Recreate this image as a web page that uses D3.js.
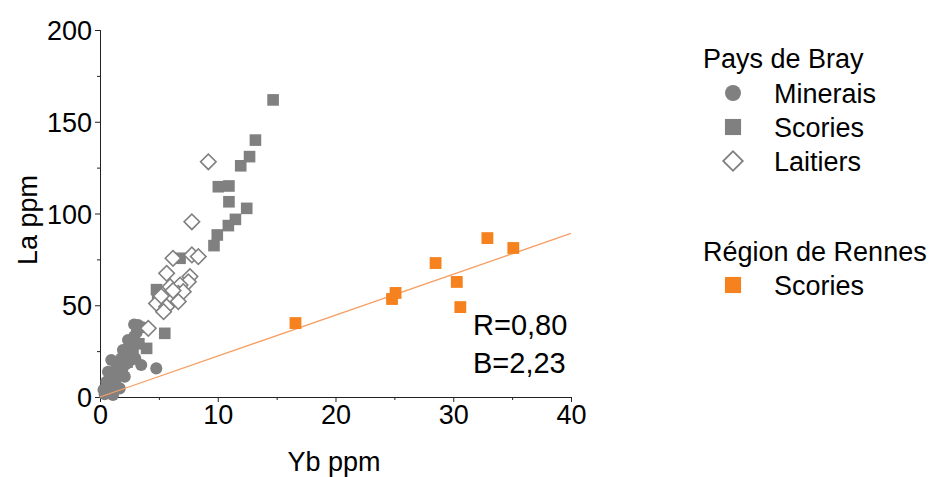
<!DOCTYPE html>
<html><head><meta charset="utf-8">
<script src="https://cdn.jsdelivr.net/npm/d3@7"></script>
<style>
html,body{margin:0;padding:0;background:#fff;}
svg text{font-family:"Liberation Sans",Arial,sans-serif;fill:#000;}
</style></head>
<body><svg id="chart" width="933" height="477"></svg>
<script>
// ---- data ----
const xTicks = [0, 10, 20, 30, 40];
const yTicks = [0, 50, 100, 150, 200];
const xMinor = [5, 15, 25, 35];
const yMinor = [25, 75, 125, 175];

// Pays de Bray – Minerais (Yb, La)
const minerais = [
  [3.23,39.2],[2.38,31.1],[1.95,25.6],[0.96,20.2],[0.68,13.8],[0.54,8.3],[0.68,2.9],
  [2.66,23.8],[3.5,17.4],[4.78,15.6],[2.1,11.1],[1.67,4.7],[1.1,1.1],[1.5,17],
  [1.8,21],[2.5,28],[2.9,33],[3.6,38],[1.3,9],[0.9,5],[2.2,18],[2.9,39.5],[0.4,1.5],[3.0,21],
  [1.2,14],[1.7,19],[2.0,23],[2.4,26],[2.7,30],[3.1,35],[0.8,10],[1.4,6],[1.9,15],[2.6,20],[0.3,4]
];
// Pays de Bray – Scories
const scoriesBray = [
  [14.7,161.9],[13.2,140],[12.7,131],[11.95,126],[10.05,114.6],[10.95,115],[10.95,106.4],
  [12.46,102.8],[11.5,96.8],[10.9,93.4],[9.96,88.3],[9.68,82.5],[6.8,75.6],[4.8,58.5],
  [4.9,54],[5.5,34.7],[3.96,26.5],[1.0,6],[1.6,12],[2.3,19],[2.8,26],[3.3,29]
];
// Pays de Bray – Laitiers
const laitiers = [
  [9.2,128.2],[7.8,95.5],[6.2,75.6],[7.8,77.4],[8.35,76.5],[5.66,67.4],[7.64,65.6],
  [7.5,62.8],[5.95,60.1],[6.8,61],[6.65,56.5],[7.07,57.4],[4.8,51],[5.66,49.2],
  [5.4,46.5],[6.65,52],[4.1,37.4],[6.2,58],[5.2,55]
];
// Région de Rennes – Scories
const scoriesRennes = [
  [16.6,40.3],[24.8,53.4],[25.1,56.7],[28.5,73.0],[30.3,62.7],[30.6,49.0],[32.9,86.6],[35.1,81.2]
];
const slopeB = 2.23;
const statR = "R=0,80";
const statB = "B=2,23";

// ---- drawing ----
const svg = d3.select("#chart");
const grey = "#808080", orange = "#f5821f";
const x = d3.scaleLinear().domain([0, 40]).range([100, 571]);
const y = d3.scaleLinear().domain([0, 200]).range([397, 30]);
const fs = 27;

// axes
const ax = svg.append("g").attr("transform", "translate(0,397)");
ax.call(d3.axisBottom(x).tickValues(xTicks).tickSize(5).tickPadding(3).tickFormat(d3.format("d")));
ax.append("g").call(d3.axisBottom(x).tickValues(xMinor).tickSize(3).tickFormat(""));
const ay = svg.append("g").attr("transform", "translate(100,0)");
ay.call(d3.axisLeft(y).tickValues(yTicks).tickSize(5).tickPadding(3).tickFormat(d3.format("d")));
ay.append("g").call(d3.axisLeft(y).tickValues(yMinor).tickSize(3).tickFormat(""));
svg.selectAll(".domain").attr("stroke", "#222").attr("stroke-width", 1);
svg.selectAll(".tick line").attr("stroke", "#222");
svg.selectAll(".tick text").style("font-size", fs + "px").attr("fill", "#000");
ax.select("g").select(".domain").remove();
ay.select("g").select(".domain").remove();
ay.selectAll(".tick text").attr("dy", "0.36em");

// axis titles
svg.append("text").attr("x", 334).attr("y", 471).attr("text-anchor", "middle")
  .style("font-size", "27px").text("Yb ppm");
svg.append("text").attr("transform", "translate(37,220) rotate(-90)").attr("text-anchor", "middle")
  .style("font-size", "27px").text("La ppm");

const sym = (type, size) => d3.symbol().type(type).size(size)();

// minerais circles
svg.append("g").selectAll("path").data(minerais).join("path")
  .attr("d", sym(d3.symbolCircle, 115))
  .attr("transform", d => `translate(${x(d[0])},${y(d[1])})`)
  .attr("fill", grey);
// scories Bray squares
svg.append("g").selectAll("path").data(scoriesBray).join("path")
  .attr("d", sym(d3.symbolSquare, 135))
  .attr("transform", d => `translate(${x(d[0])},${y(d[1])})`)
  .attr("fill", grey);
// laitiers diamonds
svg.append("g").selectAll("path").data(laitiers).join("path")
  .attr("d", sym(d3.symbolSquare, 120))
  .attr("transform", d => `translate(${x(d[0])},${y(d[1])}) rotate(45)`)
  .attr("fill", "#fff").attr("stroke", grey).attr("stroke-width", 1.6);

// regression line
svg.append("line").attr("x1", x(0)).attr("y1", y(0)).attr("x2", x(40)).attr("y2", y(40 * slopeB))
  .attr("stroke", "#f7a066").attr("stroke-width", 1.3);

// rennes squares
svg.append("g").selectAll("path").data(scoriesRennes).join("path")
  .attr("d", sym(d3.symbolSquare, 140))
  .attr("transform", d => `translate(${x(d[0])},${y(d[1])})`)
  .attr("fill", orange);

// stats
svg.append("text").attr("x", 473).attr("y", 335).style("font-size", "29px").text(statR);
svg.append("text").attr("x", 473).attr("y", 373).style("font-size", "29px").text(statB);

// legend
const lg = svg.append("g");
lg.append("text").attr("x", 703).attr("y", 68).style("font-size", fs + "px").text("Pays de Bray");
const items = [
  {t: "Minerais", cy: 93, shape: "circle"},
  {t: "Scories", cy: 127, shape: "square"},
  {t: "Laitiers", cy: 161, shape: "diamond"}
];
items.forEach(it => {
  const g = lg.append("g").attr("transform", `translate(733,${it.cy})`);
  if (it.shape === "circle") g.append("path").attr("d", sym(d3.symbolCircle, 200)).attr("fill", grey);
  if (it.shape === "square") g.append("path").attr("d", sym(d3.symbolSquare, 260)).attr("fill", grey);
  if (it.shape === "diamond") g.append("path").attr("d", sym(d3.symbolSquare, 190)).attr("transform", "rotate(45)")
    .attr("fill", "#fff").attr("stroke", grey).attr("stroke-width", 1.8);
  lg.append("text").attr("x", 774).attr("y", it.cy + 10).style("font-size", fs + "px").text(it.t);
});
lg.append("text").attr("x", 703).attr("y", 261).style("font-size", fs + "px").text("Région de Rennes");
lg.append("path").attr("d", sym(d3.symbolSquare, 260)).attr("transform", "translate(733,285)").attr("fill", orange);
lg.append("text").attr("x", 774).attr("y", 295).style("font-size", fs + "px").text("Scories");
</script></body></html>
